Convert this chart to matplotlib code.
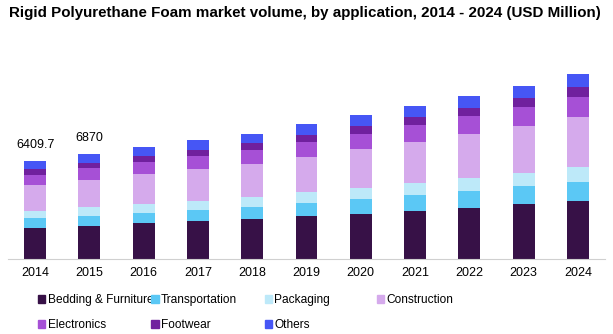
import numpy as np
import matplotlib.pyplot as plt
from matplotlib.patches import Patch

plt.rcParams['font.family'] = ['Liberation Sans', 'DejaVu Sans']

years = ['2014', '2015', '2016', '2017', '2018', '2019', '2020', '2021', '2022', '2023', '2024']
bedding = [2027, 2158, 2354, 2485, 2616, 2812, 2943, 3139, 3335, 3597, 3793]
transportation = [654, 654, 654, 719, 785, 850, 981, 1046, 1112, 1177, 1243]
packaging = [458, 589, 589, 589, 654, 719, 719, 785, 850, 850, 981]
construction = [1700, 1766, 1962, 2093, 2158, 2289, 2551, 2681, 2878, 3074, 3270]
electronics = [654, 785, 785, 850, 916, 981, 981, 1112, 1177, 1243, 1308]
footwear = [392, 327, 392, 392, 458, 458, 523, 523, 523, 589, 654]
others = [523, 589, 589, 654, 589, 719, 719, 719, 785, 785, 850]
labels_shown = ['6409.7', '6870']

series = [
    ('Bedding & Furniture', bedding, '#371147'),
    ('Transportation', transportation, '#5bc8f5'),
    ('Packaging', packaging, '#bde9f9'),
    ('Construction', construction, '#d5aaec'),
    ('Electronics', electronics, '#a650d6'),
    ('Footwear', footwear, '#70209e'),
    ('Others', others, '#4656f5'),
]

fig = plt.figure(figsize=(6.13, 3.34), dpi=100)
ax = fig.add_axes([0.013, 0.2246, 0.974, 0.656])

x = np.arange(len(years))
bottom = np.zeros(len(years))
for name, vals, col in series:
    ax.bar(x, vals, width=0.405, bottom=bottom, color=col, label=name)
    bottom += np.array(vals)

for i, txt in enumerate(labels_shown):
    ax.text(x[i], bottom[i] + 650, txt, ha='center', va='bottom', fontsize=9)

ax.set_xlim(-0.5, 10.5)
ax.set_ylim(0, 14323)
ax.set_xticks(x)
ax.set_xticklabels(years, fontsize=9)
ax.tick_params(axis='x', length=0, pad=6)
ax.set_yticks([])
for s in ['top', 'right', 'left']:
    ax.spines[s].set_visible(False)
ax.spines['bottom'].set_color('#d0d0d0')

fig.text(0.497, 0.962, 'Rigid Polyurethane Foam market volume, by application, 2014 - 2024 (USD Million)',
         ha='center', va='center', fontsize=10.9, fontweight='bold')

# legend: four columns placed like the original
col_x = [0.062, 0.247, 0.432, 0.615]
cols = [[0, 4], [1, 5], [2, 6], [3]]
for cx, idx in zip(col_x, cols):
    handles = [Patch(color=series[k][2], label=series[k][0]) for k in idx]
    fig.legend(handles=handles, loc='upper left', bbox_to_anchor=(cx, 0.12),
               frameon=False, fontsize=8.6, handlelength=0.6, handleheight=0.6,
               handletextpad=0.2, labelspacing=1.1, borderpad=0, borderaxespad=0)

fig.savefig('out.png', dpi=100)
